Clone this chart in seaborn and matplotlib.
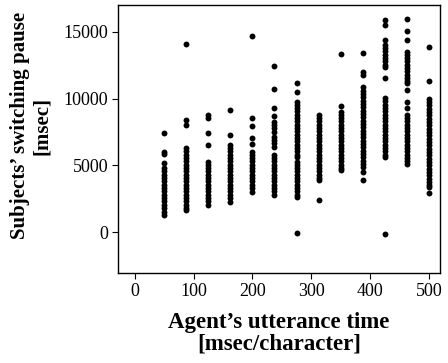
import pandas as pd
import seaborn as sns
import matplotlib.pyplot as plt

# agent's utterance time levels [msec/character]
levels = [50, 87.5, 125, 162.5, 200, 237.5, 275, 312.5, 350, 387.5, 425, 462.5, 500]

# subjects' switching pause [msec] per level
c050 = [7400, 5970, 5850, 5160, 4790, 4550, 4300, 4050, 3800, 3550, 3300, 3050,
        2800, 2550, 2300, 2050, 1800, 1550, 1300]
c087 = [14120, 8400, 8030, 6290, 6050, 5800, 5550, 5300, 5050, 4800, 4550, 4300,
        4050, 3800, 3550, 3300, 3050, 2800, 2550, 2300, 2050, 1800, 1670]
c125 = [8780, 8530, 7460, 6530, 5290, 5050, 4800, 4550, 4300, 4050, 3800, 3550,
        3300, 3050, 2800, 2550, 2300, 2040]
c162 = [9150, 7280, 6530, 6300, 6050, 5800, 5550, 5300, 5050, 4800, 4550, 4300,
        4050, 3800, 3550, 3300, 3050, 2800, 2550, 2290]
c200 = [14690, 8530, 7980, 7040, 6610, 6030, 5800, 5550, 5300, 5050, 4800, 4550,
        4300, 4050, 3800, 3550, 3300, 3040]
c237 = [12470, 10700, 9280, 8700, 8280, 8050, 7800, 7530, 7160, 6900, 6650, 6410,
        5790, 5550, 5300, 5050, 4800, 4550, 4300, 4050, 3800, 3550, 3300, 3050, 2790]
c275 = [11200, 10480, 9780, 9550, 9300, 9050, 8800, 8550, 8300, 8050, 7800, 7550,
        7300, 7050, 6800, 6550, 6300, 6050, 5800, 5660, 5290, 5050, 4800, 4550,
        4300, 4050, 3800, 3550, 3300, 3050, 2800, 2670, -30]
c312 = [8780, 8550, 8300, 8050, 7800, 7550, 7300, 7050, 6800, 6550, 6300, 6050,
        5800, 5550, 5300, 5050, 4800, 4550, 4300, 4050, 3910, 2420]
c350 = [13350, 9450, 9030, 8800, 8550, 8300, 8050, 7800, 7550, 7300, 7050, 6800,
        6550, 6300, 6050, 5800, 5550, 5300, 5050, 4800, 4660]
c387 = [13400, 12020, 11770, 10850, 10600, 10350, 10100, 9850, 9600, 9350, 9100,
        8850, 8600, 8350, 8100, 7850, 7600, 7350, 7100, 6850, 6600, 6350, 6100,
        5850, 5600, 5350, 5100, 4910, 4540, 3910]
c425 = [15890, 15520, 14400, 14020, 13800, 13550, 13300, 13050, 12800, 12550, 12400,
        11570, 10070, 9800, 9550, 9300, 9050, 8800, 8550, 8300, 8050, 7800, 7550,
        7300, 7050, 6800, 6550, 6300, 6050, 5800, 5660, -150]
c462 = [15970, 15090, 14400, 13520, 13300, 13050, 12800, 12550, 12300, 12050, 11800,
        11550, 11300, 11150, 10650, 9780, 9330, 8780, 8550, 8300, 8050, 7800, 7550,
        7300, 7050, 6800, 6550, 6300, 6050, 5800, 5550, 5300, 5110]
c500 = [13890, 11350, 9980, 9750, 9500, 9250, 9000, 8750, 8500, 8250, 8000, 7750,
        7500, 7250, 7000, 6750, 6500, 6250, 6000, 5750, 5500, 5250, 5000, 4750, 4500,
        4250, 4000, 3750, 3500, 3410, 2920]

columns = [c050, c087, c125, c162, c200, c237, c275, c312, c350, c387, c425, c462, c500]
rows = []
for lv, vals in zip(levels, columns):
    for v in vals:
        rows.append((lv, v))
df = pd.DataFrame(rows, columns=['utterance', 'pause'])

sns.set_style("ticks")
plt.rcParams['font.family'] = ['Liberation Serif', 'DejaVu Serif']
plt.rcParams['axes.labelcolor'] = 'black'
plt.rcParams['text.color'] = 'black'

fig = plt.figure(figsize=(4.48, 3.63), dpi=100)
ax = fig.add_axes([0.263, 0.248, 0.719, 0.738])
sns.scatterplot(data=df, x='utterance', y='pause', color='black', s=18,
                linewidth=0, ax=ax)

ax.set_xlim(-29, 519)
ax.set_ylim(-3050, 17000)
ax.set_xticks([0, 100, 200, 300, 400, 500])
ax.set_yticks([0, 5000, 10000, 15000])
ax.tick_params(labelsize=13, length=4, width=0.8, color='black', labelcolor='black', pad=3)
for sp in ax.spines.values():
    sp.set_color('black')
    sp.set_linewidth(1.0)

ax.set_xlabel('Agent\u2019s utterance time\n[msec/character]', fontsize=16.5,
              fontweight='bold', linespacing=1.0, labelpad=9, color='black')
ax.set_ylabel('Subjects\u2019 switching pause\n[msec]', fontsize=15,
              fontweight='bold', linespacing=1.15, color='black')
ax.yaxis.set_label_coords(-0.205, 0.55)

fig.savefig('out.png', dpi=100)
